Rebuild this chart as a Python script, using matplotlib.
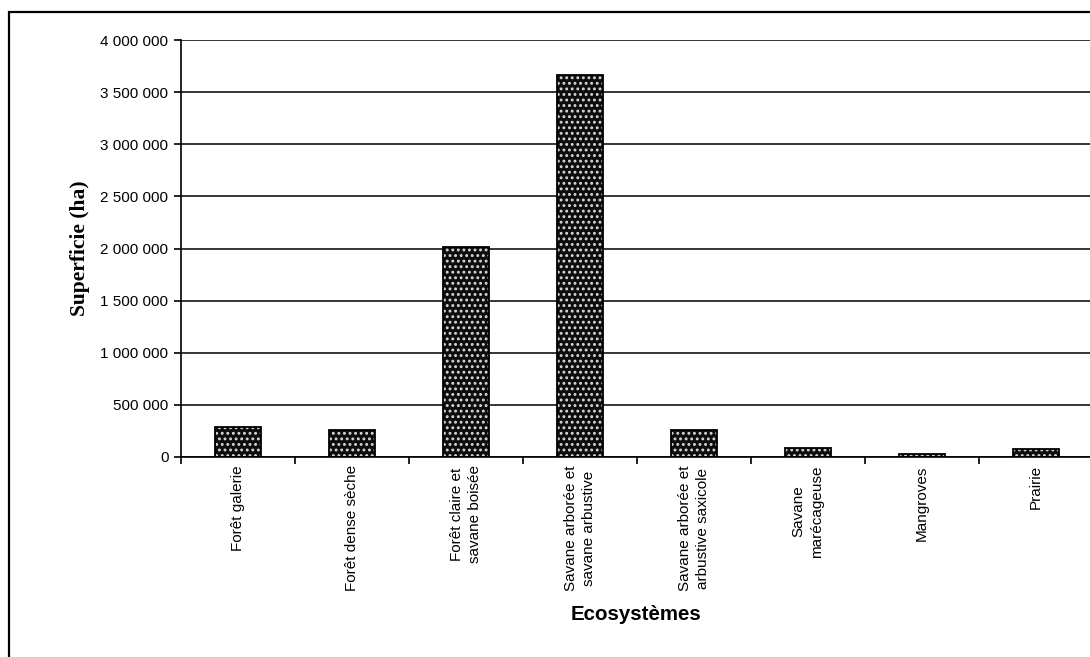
import matplotlib
matplotlib.use("Agg")
import matplotlib.pyplot as plt
from matplotlib.patches import Rectangle
from matplotlib.ticker import FixedLocator, FuncFormatter

categories = ["Forêt galerie", "Forêt dense sèche", "Forêt claire et\nsavane boisée",
              "Savane arborée et\nsavane arbustive", "Savane arborée et\narbustive saxicole",
              "Savane\nmarécageuse", "Mangroves", "Prairie"]
values = [292000, 255000, 2015000, 3665000, 255000, 86000, 25000, 77000]
yticks = [0, 500000, 1000000, 1500000, 2000000, 2500000, 3000000, 3500000, 4000000]

plt.rcParams["hatch.linewidth"] = 1.3

W, H = 1090, 657
fig = plt.figure(figsize=(W / 100, H / 100), dpi=100)
fig.patch.set_facecolor("white")
ax = fig.add_axes([181 / W, 1 - 457 / H, 912 / W, 417 / H])

x = list(range(len(categories)))
bw = 0.41
ax.bar(x, values, width=bw, color="#0d0d0d", edgecolor="none", linewidth=0, zorder=3)
ax.bar(x, values, width=bw, color="none", edgecolor="#d9d9d9", hatch="...", linewidth=0, zorder=4)
ax.bar(x, values, width=bw, color="none", edgecolor="black", linewidth=1.3, zorder=5)

ax.set_xlim(-0.5, len(categories) - 0.5)
ax.set_ylim(0, 4000000)
ax.yaxis.set_major_locator(FixedLocator(yticks))
ax.yaxis.set_major_formatter(FuncFormatter(lambda v, p: f"{int(v):,}".replace(",", " ")))
ax.grid(axis="y", color="black", linewidth=1.1, zorder=1)
ax.set_axisbelow(True)

ax.xaxis.set_major_locator(FixedLocator([i + 0.5 for i in range(-1, len(categories))]))
ax.xaxis.set_major_formatter(FuncFormatter(lambda v, p: ""))
ax.xaxis.set_minor_locator(FixedLocator(x))
ax.set_xticks(x, categories, minor=True)
ax.tick_params(axis="x", which="minor", length=0, pad=6, labelrotation=90, labelsize=11)
ax.tick_params(axis="x", which="major", length=5, width=1.2, direction="out")
ax.tick_params(axis="y", length=5, width=1.2, direction="out", labelsize=11, pad=4)
for lab in ax.get_xticklabels(minor=True):
    lab.set_fontfamily("Liberation Sans")
    lab.set_multialignment("center")
    lab.set_linespacing(1.45)
for lab in ax.get_yticklabels():
    lab.set_fontfamily("Liberation Sans")

for s in ["top", "right"]:
    ax.spines[s].set_visible(False)
for s in ["left", "bottom"]:
    ax.spines[s].set_linewidth(1.2)
    ax.spines[s].set_zorder(6)

fig.text(80 / W, 1 - 248 / H, "Superficie (ha)", rotation=90, ha="center", va="center",
         fontsize=15.5, fontweight="bold", fontfamily="Liberation Serif")
fig.text(636 / W, 1 - 615 / H, "Ecosystèmes", ha="center", va="center",
         fontsize=14.8, fontweight="bold", fontfamily="Liberation Sans")

fig.add_artist(Rectangle((9 / W, -0.05), 1.2, 1 - 12 / H + 0.05, transform=fig.transFigure,
                         fill=False, edgecolor="black", linewidth=1.6))

fig.savefig("out.png", dpi=100)
